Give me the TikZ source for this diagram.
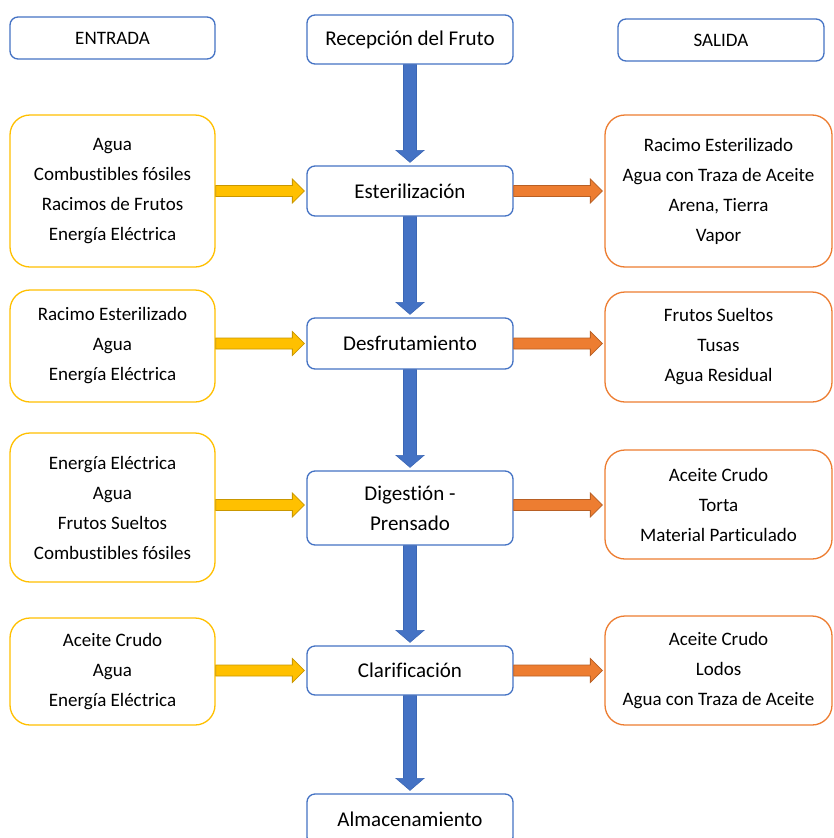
\documentclass[tikz,border=0pt]{standalone}
\usepackage{fontspec}
\setmainfont{Carlito}[Ligatures={NoCommon}]
\usetikzlibrary{calc}
\definecolor{oblue}{HTML}{4472C4}
\definecolor{oyellow}{HTML}{FFC000}
\definecolor{oorange}{HTML}{ED7D31}
\definecolor{dyellow}{HTML}{C99700}
\definecolor{dorange}{HTML}{B85F24}
\definecolor{dblue}{HTML}{3B66B5}
\tikzset{
 base/.style={draw, line width=1.3pt, fill=white, align=center, inner sep=0pt, text=black},
 procbox/.style={base, draw=oblue, rounded corners=8pt, minimum width=206pt, font=\fontsize{21}{30}\selectfont},
 headbox/.style={base, draw=oblue, rounded corners=8pt, minimum width=205pt, minimum height=42pt, font=\fontsize{19}{24}\selectfont},
 inbox/.style={base, draw=oyellow, rounded corners=20pt, minimum width=205pt, font=\fontsize{19}{30}\selectfont},
 outbox/.style={base, draw=oorange, rounded corners=20pt, minimum width=227pt, font=\fontsize{19}{30}\selectfont},
 varrow/.style={fill=oblue, draw=dblue, line width=0.6pt, to path={let \p1=(\tikztostart), \p2=(\tikztotarget) in
   (\x1-6.5pt,\y1) -- (\x1-6.5pt,\y2+15pt) -- (\x1-14pt,\y2+15pt) -- (\x1,\y2+3pt) -- (\x1+14pt,\y2+15pt) -- (\x1+6.5pt,\y2+15pt) -- (\x1+6.5pt,\y1) -- cycle}},
 harrow/.style={line width=0.8pt, to path={let \p1=(\tikztostart), \p2=(\tikztotarget) in
   (\x1,\y1+5.5pt) -- (\x2-14pt,\y1+5.5pt) -- (\x2-14pt,\y1+12pt) -- (\x2-2pt,\y1) -- (\x2-14pt,\y1-12pt) -- (\x2-14pt,\y1-5.5pt) -- (\x1,\y1-5.5pt) -- cycle}},
 yarrow/.style={harrow, fill=oyellow, draw=dyellow},
 oarrow/.style={harrow, fill=oorange, draw=dorange},
}
\begin{document}
\begin{tikzpicture}[x=1pt,y=-1pt]
\clip (0,0) rectangle (834,838);
\fill[white] (0,0) rectangle (834,838);
% header
\node[headbox] (ent) at (112.5,38) {ENTRADA};
\node[procbox, minimum height=49pt] (rec) at (410,39.5) {Recepción del Fruto};
\node[headbox, minimum width=206pt] (sal) at (721,40) {SALIDA};
% process column
\node[procbox, minimum height=50pt] (est) at (410,191) {Esterilización};
\node[procbox, minimum height=51pt] (des) at (410,343.5) {Desfrutamiento};
\node[procbox, minimum height=74pt] (dig) at (410,508) {Digestión -\\Prensado};
\node[procbox, minimum height=49pt] (cla) at (410,670.5) {Clarificación};
\node[procbox, minimum height=51pt] (alm) at (410,819.5) {Almacenamiento};
% inputs
\node[inbox, minimum height=152pt] (in1) at (112.5,191) {Agua\\Combustibles fósiles\\Racimos de Frutos\\Energía Eléctrica};
\node[inbox, minimum height=112pt] (in2) at (112.5,346) {Racimo Esterilizado\\Agua\\Energía Eléctrica};
\node[inbox, minimum height=149pt] (in3) at (112.5,507.5) {Energía Eléctrica\\Agua\\Frutos Sueltos\\Combustibles fósiles};
\node[inbox, minimum height=107pt] (in4) at (112.5,671.5) {Aceite Crudo\\Agua\\Energía Eléctrica};
% outputs
\node[outbox, minimum height=152pt] (out1) at (718.5,191) {Racimo Esterilizado\\Agua con Traza de Aceite\\Arena, Tierra\\Vapor};
\node[outbox, minimum height=110pt] (out2) at (718.5,347) {Frutos Sueltos\\Tusas\\Agua Residual};
\node[outbox, minimum height=109pt] (out3) at (718.5,504.5) {Aceite Crudo\\Torta\\Material Particulado};
\node[outbox, minimum height=109pt] (out4) at (718.5,670.5) {Aceite Crudo\\Lodos\\Agua con Traza de Aceite};
% vertical arrows
\draw[varrow] (rec.south) to (est.north);
\draw[varrow] (est.south) to (des.north);
\draw[varrow] (des.south) to (dig.north);
\draw[varrow] (dig.south) to (cla.north);
\draw[varrow] (cla.south) to (alm.north);
% input arrows
\draw[yarrow] (in1.east) to (est.west);
\draw[yarrow] (in2.east |- des.west) to (des.west);
\draw[yarrow] (in3.east |- 0,505) to (dig.west);
\draw[yarrow] (in4.east |- cla.west) to (cla.west);
% output arrows
\draw[oarrow] (est.east) to (out1.west);
\draw[oarrow] (des.east) to (out2.west);
\draw[oarrow] (dig.east |- 0,505) to (out3.west);
\draw[oarrow] (cla.east) to (out4.west);
\end{tikzpicture}
\end{document}
